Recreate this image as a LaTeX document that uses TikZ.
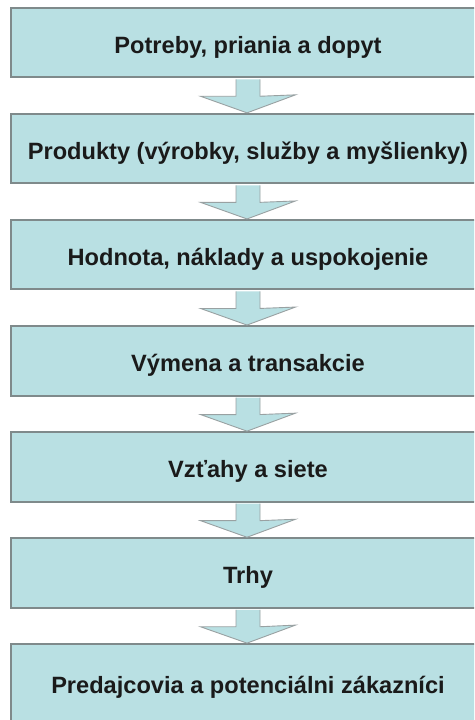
\documentclass[tikz,border=0pt]{standalone}
\usepackage{fontspec}
\setmainfont{Liberation Sans}
\usetikzlibrary{calc}
\definecolor{boxfill}{HTML}{B9E0E3}
\definecolor{boxline}{HTML}{7F8A8B}
\definecolor{txt}{HTML}{1A1A1A}
\begin{document}
\begin{tikzpicture}[x=1pt,y=-1pt,
  stagebox/.style={draw=boxline, line width=2pt, fill=boxfill, rectangle,
    minimum width=474pt, minimum height=69.5pt, inner sep=0pt,
    text height=21pt, text depth=0pt,
    font=\fontsize{23.6}{28}\selectfont\bfseries, text=txt},
  blockarrow/.style={draw=boxline!80, line width=0.9pt, fill=boxfill, line join=miter}]
\useasboundingbox (0,0) rectangle (474,720);
\clip (0,0) rectangle (474,720);
\fill[white] (0,0) rectangle (474,720);
\node[stagebox] (b1) at (248,42.5) {Potreby, priania a dopyt};
\node[stagebox] (b2) at (248,148.6) {Produkty (výrobky, služby a myšlienky)};
\node[stagebox] (b3) at (248,254.7) {Hodnota, náklady a uspokojenie};
\node[stagebox] (b4) at (248,360.8) {Výmena a transakcie};
\node[stagebox] (b5) at (248,466.9) {Vzťahy a siete};
\node[stagebox] (b6) at (248,573.0) {Trhy};
\node[stagebox, minimum height=77pt] (b7) at (248,682.6) {Predajcovia a potenciálni zákazníci};
\foreach \a/\b in {b1/b2,b2/b3,b3/b4,b4/b5,b5/b6,b6/b7}{
  \draw[blockarrow] ($(\a.south)+(-12,1)$) -- ($(\a.south)+(-12,18)$) -- ($(\a.south)+(-47.5,18)$)
    -- ($(\b.north)+(-1,0)$) -- ($(\b.north)+(47.5,-18)$) -- ($(\a.south)+(12,18)$) -- ($(\a.south)+(12,1)$);
}
\end{tikzpicture}
\end{document}
